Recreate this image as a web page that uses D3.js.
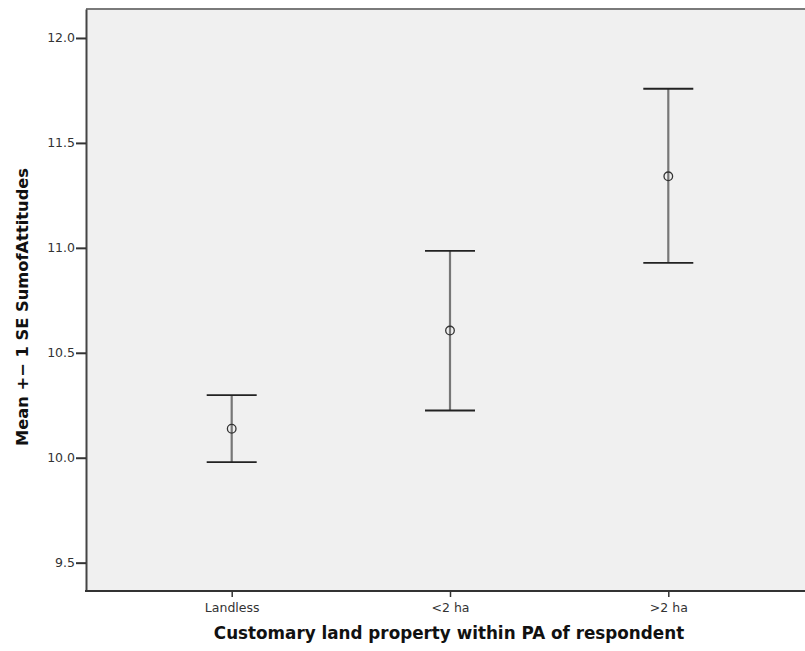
<!DOCTYPE html>
<html>
<head>
<meta charset="utf-8">
<script src="https://cdn.jsdelivr.net/npm/d3@7"></script>
<style>
  body { margin:0; background:#fff; }
  .tick text { font-family: "DejaVu Sans", sans-serif; fill:#333; }
</style>
</head>
<body>
<div id="chart-area"></div>
<script>
var categories = ["Landless", "<2 ha", ">2 ha"];
var means = [10.138, 10.606, 11.341];
var upper = [10.298, 10.986, 11.758];
var lower = [9.979, 10.225, 10.928];
var yTicks = [9.5, 10.0, 10.5, 11.0, 11.5, 12.0];

var total_width = 805, total_height = 651;
var margin = {top:9, right:0, bottom:60, left:86};
var width = total_width - margin.left - margin.right;
var height = total_height - margin.top - margin.bottom;

var svg = d3.select('#chart-area').append('svg')
            .attr("width", total_width)
            .attr("height", total_height);

var chart = svg.append('g')
               .attr("transform", "translate(" + margin.left + "," + margin.top + ")");

var x = d3.scalePoint().domain(categories).range([145.7, 582.3]);
var y = d3.scaleLinear().domain([9.365, 12.138]).range([height, 0]);

chart.append("rect")
     .attr("width", width).attr("height", height)
     .attr("fill", "#f0f0f0");

// top border
chart.append("line")
     .attr("x1", 0).attr("x2", width).attr("y1", 0).attr("y2", 0)
     .attr("stroke", "#7a7a7a").attr("stroke-width", 2);

var yAxis = chart.append('g')
     .call(d3.axisLeft(y).tickValues(yTicks).tickFormat(d3.format(".1f"))
             .tickSize(10).tickSizeOuter(0).tickPadding(1));
yAxis.select(".domain").attr("stroke", "#444").attr("stroke-width", 2);
yAxis.selectAll(".tick line").attr("stroke", "#333").attr("stroke-width", 2);
yAxis.selectAll(".tick text").attr("font-size", "12.5px");

var xAxis = chart.append('g')
     .attr("transform", "translate(0," + height + ")")
     .call(d3.axisBottom(x).tickSize(6).tickSizeOuter(0).tickPadding(6));
xAxis.select(".domain").remove();
xAxis.append("line")
     .attr("x1", -1).attr("x2", width).attr("y1", 0).attr("y2", 0)
     .attr("stroke", "#333").attr("stroke-width", 2);
xAxis.selectAll(".tick line").attr("stroke", "#333").attr("stroke-width", 1.5);
xAxis.selectAll(".tick text").attr("font-size", "12.5px");

var bars = chart.selectAll(".bar").data(categories).enter().append("g");

bars.append("line")
    .attr("x1", (d) => x(d)).attr("x2", (d) => x(d))
    .attr("y1", (d, i) => y(upper[i])).attr("y2", (d, i) => y(lower[i]))
    .attr("stroke", "#777").attr("stroke-width", 2.2);

bars.append("line")
    .attr("x1", (d) => x(d) - 25).attr("x2", (d) => x(d) + 25)
    .attr("y1", (d, i) => y(upper[i])).attr("y2", (d, i) => y(upper[i]))
    .attr("stroke", "#222").attr("stroke-width", 1.8);

bars.append("line")
    .attr("x1", (d) => x(d) - 25).attr("x2", (d) => x(d) + 25)
    .attr("y1", (d, i) => y(lower[i])).attr("y2", (d, i) => y(lower[i]))
    .attr("stroke", "#222").attr("stroke-width", 1.8);

bars.append("circle")
    .attr("cx", (d) => x(d)).attr("cy", (d, i) => y(means[i]))
    .attr("r", 4.3)
    .attr("fill", "none").attr("stroke", "#333").attr("stroke-width", 1.3);

svg.append("text")
   .attr("x", 449).attr("y", 639)
   .attr("text-anchor", "middle")
   .attr("font-family", "DejaVu Sans, sans-serif")
   .attr("font-weight", "bold").attr("font-size", "16.8px")
   .attr("fill", "#111")
   .text("Customary land property within PA of respondent");

svg.append("text")
   .attr("transform", "translate(28,307) rotate(-90)")
   .attr("text-anchor", "middle")
   .attr("font-family", "DejaVu Sans, sans-serif")
   .attr("font-weight", "bold").attr("font-size", "16.3px")
   .attr("fill", "#111")
   .text("Mean +\u2212 1 SE SumofAttitudes");
</script>
</body>
</html>
